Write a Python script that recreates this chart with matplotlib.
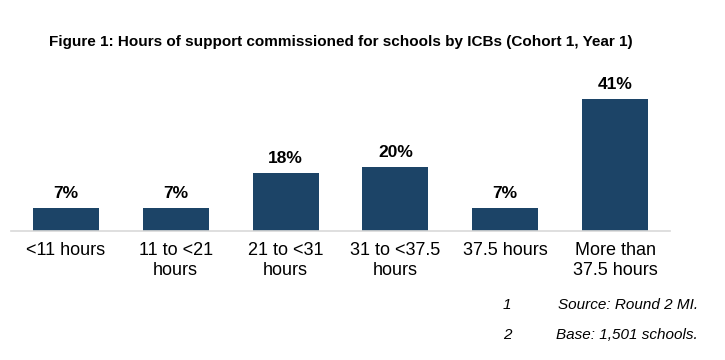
import matplotlib.pyplot as plt

plt.rcParams['font.family'] = ['Liberation Sans', 'DejaVu Sans']

categories = ['<11 hours', '11 to <21\nhours', '21 to <31\nhours',
              '31 to <37.5\nhours', '37.5 hours', 'More than\n37.5 hours']
values = [7, 7, 18, 20, 7, 41]
value_labels = ['7%', '7%', '18%', '20%', '7%', '41%']

fig = plt.figure(figsize=(7.25, 3.6), dpi=100)
# axes: x 11..670 px, baseline at y=231 px
ax = fig.add_axes([11 / 725, (360 - 231) / 360, 659 / 725, 145 / 360])

x = range(len(values))
bars = ax.bar(x, values, width=0.6, color='#1c4467')
ax.set_xlim(-0.5, len(values) - 0.5)
ax.set_ylim(0, 45)

for b, lab in zip(bars, value_labels):
    ax.annotate(lab, (b.get_x() + b.get_width() / 2, b.get_height()),
                xytext=(0, 5), textcoords='offset points',
                ha='center', va='bottom', fontsize=12.5, fontweight='bold')

ax.set_xticks(list(x))
ax.set_xticklabels(categories, fontsize=13, linespacing=1.25)
ax.tick_params(axis='x', length=0, pad=8)
ax.set_yticks([])
for s in ['top', 'right', 'left']:
    ax.spines[s].set_visible(False)
ax.spines['bottom'].set_color('#d9d9d9')
ax.spines['bottom'].set_linewidth(1.2)

fig.text(341 / 725, 1 - 42 / 360,
         'Figure 1: Hours of support commissioned for schools by ICBs (Cohort 1, Year 1)',
         ha='center', va='center', fontsize=11, fontweight='bold')

fig.text(507 / 725, 1 - 305 / 360, '1', ha='center', va='center',
         fontsize=11, style='italic')
fig.text(698 / 725, 1 - 305 / 360, 'Source: Round 2 MI.', ha='right', va='center',
         fontsize=11, style='italic')
fig.text(507 / 725, 1 - 335 / 360, '2', ha='center', va='center',
         fontsize=11, style='italic')
fig.text(698 / 725, 1 - 335 / 360, 'Base: 1,501 schools.', ha='right', va='center',
         fontsize=11, style='italic')

fig.savefig('out.png', dpi=100)
